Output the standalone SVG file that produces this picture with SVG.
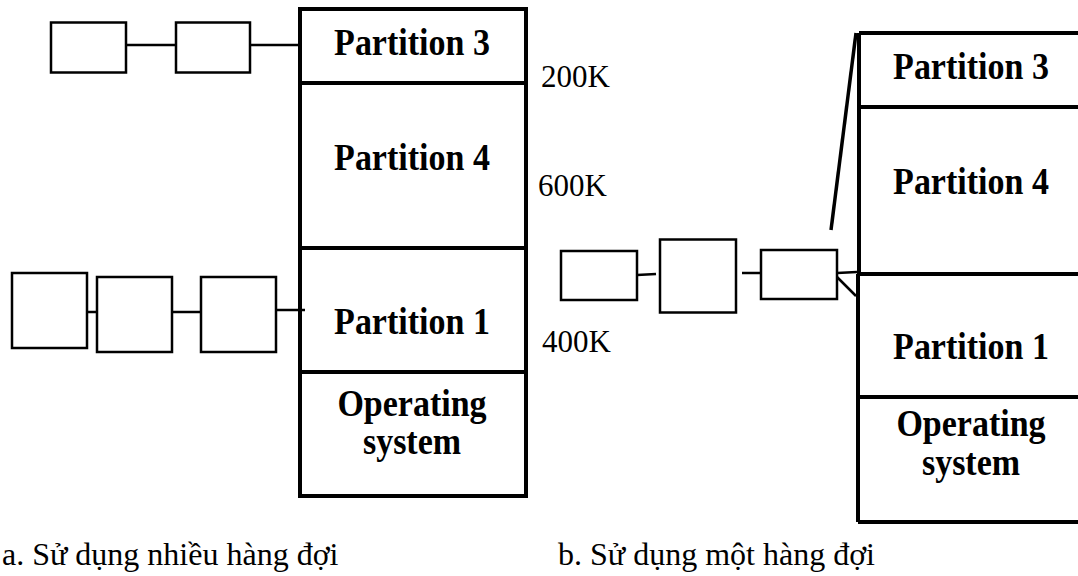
<svg xmlns="http://www.w3.org/2000/svg" width="1078" height="576" viewBox="0 0 1078 576">
<style>
.blk{fill:none;stroke:#000;stroke-width:4}
.q{fill:#fff;stroke:#000;stroke-width:2.5}
.ln{stroke:#000;stroke-width:2.5;fill:none}
.pt{font-family:"Liberation Serif","Times New Roman",serif;font-weight:bold;font-size:34px;text-anchor:middle;fill:#000}
.lb{font-family:"Liberation Serif","Times New Roman",serif;font-size:31px;fill:#000}
.cp{font-family:"Liberation Serif","Times New Roman",serif;font-size:32px;fill:#000}
</style>
<rect width="1078" height="576" fill="#fff"/>
<g id="connectors">
<line class="ln" x1="126" y1="45" x2="176" y2="45"/>
<line class="ln" x1="250" y1="45" x2="300" y2="45"/>
<line class="ln" x1="87" y1="312" x2="100" y2="312"/>
<line class="ln" x1="169" y1="312" x2="201" y2="312"/>
<line class="ln" x1="275" y1="310" x2="305" y2="310"/>
<line class="ln" x1="637" y1="275" x2="656" y2="274"/>
<line class="ln" x1="742" y1="273" x2="761" y2="273"/>
<line class="ln" x1="837" y1="273" x2="857" y2="272"/>
<line class="ln" x1="837" y1="277" x2="856" y2="296"/>
<line stroke="#000" stroke-width="3.5" x1="856" y1="33" x2="831" y2="230"/>
</g>
<g id="memory-a">
<rect class="blk" x="300" y="9" width="226" height="487"/>
<line class="blk" x1="300" y1="83" x2="526" y2="83"/>
<line class="blk" x1="300" y1="248" x2="526" y2="248"/>
<line class="blk" x1="300" y1="372" x2="526" y2="372"/>
<text class="pt" transform="translate(412,55) scale(1,1.1)">Partition 3</text>
<text class="pt" transform="translate(412,170) scale(1,1.1)">Partition 4</text>
<text class="pt" transform="translate(412,334) scale(1,1.1)">Partition 1</text>
<text class="pt" transform="translate(412,416) scale(1,1.1)">Operating</text>
<text class="pt" transform="translate(412,454) scale(1,1.1)">system</text>
</g>
<g id="queue-a3">
<rect class="q" x="51" y="22.5" width="75" height="50"/>
<rect class="q" x="176" y="22.5" width="74" height="50"/>
</g>
<g id="queue-a1">
<rect class="q" x="12" y="273" width="75" height="75"/>
<rect class="q" x="97" y="277" width="75" height="75"/>
<rect class="q" x="201" y="277" width="75" height="75"/>
</g>
<g id="labels">
<text class="lb" x="541" y="87">200K</text>
<text class="lb" x="538" y="196">600K</text>
<text class="lb" x="542" y="352">400K</text>
</g>
<g id="memory-b">
<line class="blk" x1="859" y1="33" x2="1085" y2="33"/>
<line class="blk" x1="859" y1="33" x2="859" y2="274"/>
<line class="blk" x1="858" y1="274" x2="858" y2="522"/>
<line class="blk" x1="858" y1="522" x2="1085" y2="522"/>
<line class="blk" x1="859" y1="107" x2="1085" y2="107"/>
<line class="blk" x1="857" y1="274" x2="1085" y2="274"/>
<line class="blk" x1="858" y1="397" x2="1085" y2="397"/>
<text class="pt" transform="translate(971,79) scale(1,1.1)">Partition 3</text>
<text class="pt" transform="translate(971,194) scale(1,1.1)">Partition 4</text>
<text class="pt" transform="translate(971,359) scale(1,1.1)">Partition 1</text>
<text class="pt" transform="translate(971,436) scale(1,1.1)">Operating</text>
<text class="pt" transform="translate(971,475) scale(1,1.1)">system</text>
</g>
<g id="queue-b">
<rect class="q" x="561" y="251" width="76" height="49"/>
<rect class="q" x="660" y="239.5" width="76" height="73"/>
<rect class="q" x="761" y="250" width="76" height="49"/>
</g>
<g id="captions">
<text class="cp" x="2" y="565">a. Sử dụng nhiều hàng đợi</text>
<text class="cp" x="558" y="565">b. Sử dụng một hàng đợi</text>
</g>
</svg>
